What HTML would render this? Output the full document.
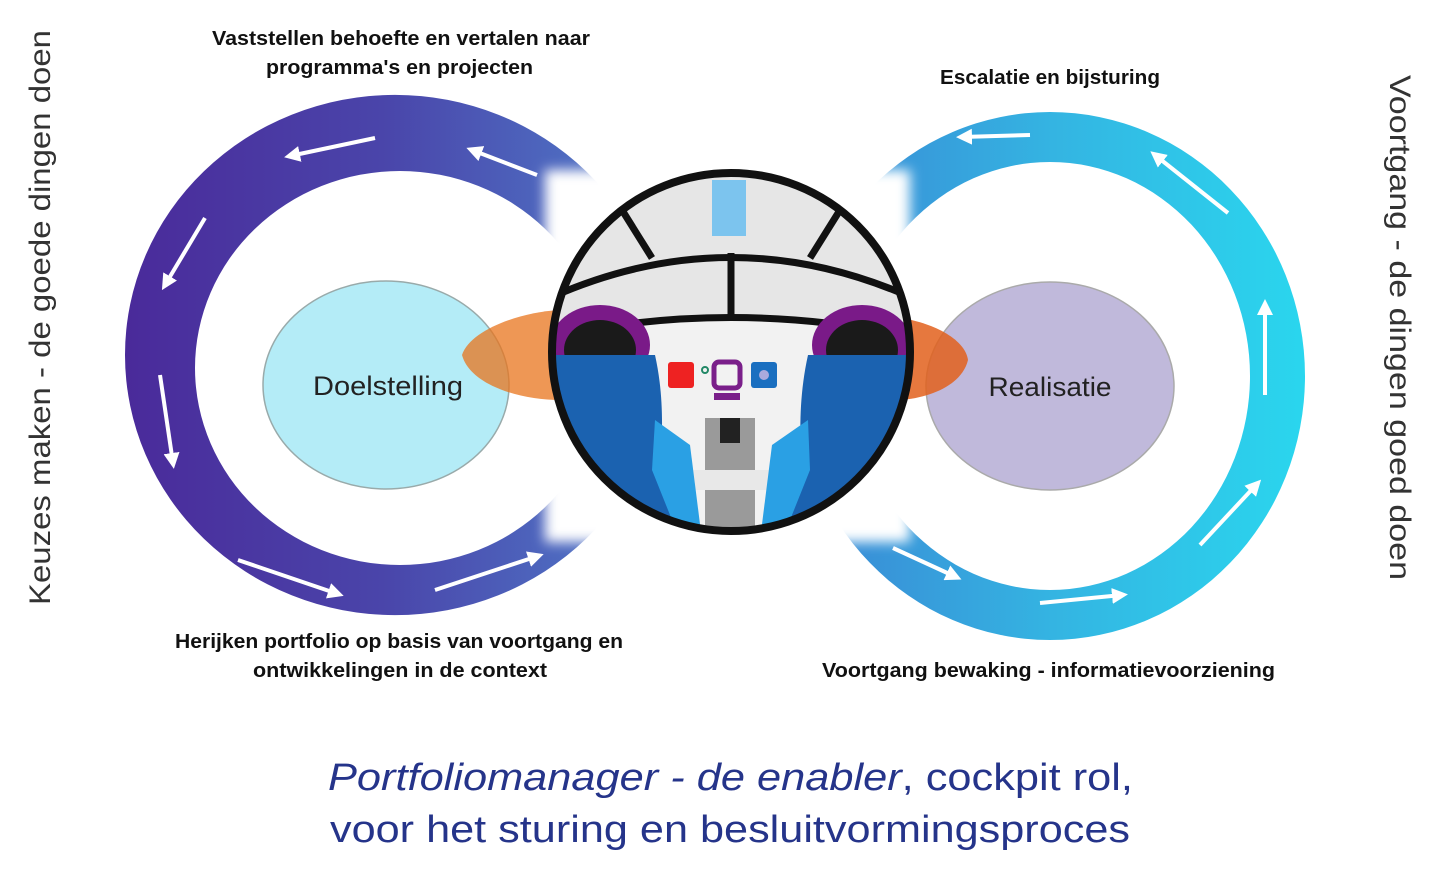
<!DOCTYPE html>
<html><head><meta charset="utf-8"><style>
html,body{margin:0;padding:0;background:#fff;}
svg{display:block;}
.b{font-family:"Liberation Sans Narrow","Liberation Sans",sans-serif;font-weight:bold;fill:#111;}
</style></head><body>
<svg width="1440" height="883" viewBox="0 0 1440 883" xmlns="http://www.w3.org/2000/svg">
<defs>
<linearGradient id="gl" x1="125" y1="0" x2="640" y2="0" gradientUnits="userSpaceOnUse">
<stop offset="0" stop-color="#4a2a9a"/><stop offset="0.5" stop-color="#4a45aa"/><stop offset="1" stop-color="#4f78c8"/></linearGradient>
<linearGradient id="gr" x1="800" y1="0" x2="1305" y2="0" gradientUnits="userSpaceOnUse">
<stop offset="0" stop-color="#3a86d4"/><stop offset="0.5" stop-color="#34b4e2"/><stop offset="1" stop-color="#2ad6ee"/></linearGradient>
<marker id="ah" markerWidth="4" markerHeight="4" refX="2.5" refY="2" orient="auto" markerUnits="strokeWidth">
<path d="M0,0 L4,2 L0,4 z" fill="#fff"/></marker>
<clipPath id="cc"><circle cx="731" cy="352" r="178"/></clipPath>
<filter id="bl" x="-10%" y="-10%" width="120%" height="120%"><feGaussianBlur stdDeviation="6"/></filter>
</defs>

<!-- rings -->
<path fill="url(#gl)" fill-rule="evenodd" d="M125,355 a270,260 0 1,0 540,0 a270,260 0 1,0 -540,0 Z M195,368 a205,197 0 1,0 410,0 a205,197 0 1,0 -410,0 Z"/>
<path fill="url(#gr)" fill-rule="evenodd" d="M795,376 a255,264 0 1,0 510,0 a255,264 0 1,0 -510,0 Z M850,376 a200,214 0 1,0 400,0 a200,214 0 1,0 -400,0 Z"/>

<!-- arrows -->
<g stroke="#fff" stroke-width="4" fill="none" marker-end="url(#ah)">
<line x1="375" y1="138" x2="290" y2="156"/>
<line x1="537" y1="175" x2="472" y2="150"/>
<line x1="205" y1="218" x2="165" y2="285"/>
<line x1="160" y1="375" x2="173" y2="463"/>
<line x1="238" y1="560" x2="338" y2="594"/>
<line x1="435" y1="590" x2="538" y2="556"/>
<line x1="1030" y1="135" x2="962" y2="137"/>
<line x1="1228" y1="213" x2="1155" y2="155"/>
<line x1="1265" y1="395" x2="1265" y2="305"/>
<line x1="1200" y1="545" x2="1257" y2="484"/>
<line x1="1040" y1="603" x2="1122" y2="595"/>
<line x1="893" y1="548" x2="956" y2="577"/>
</g>

<!-- white square behind cockpit -->
<rect x="545" y="170" width="365" height="372" fill="#fff" filter="url(#bl)"/>

<!-- inner ellipses -->
<ellipse cx="386" cy="385" rx="123" ry="104" fill="#b4ecf7" stroke="#9aa" stroke-width="1.5"/>
<ellipse cx="1050" cy="386" rx="124" ry="104" fill="#c0b9db" stroke="#aaa" stroke-width="1.5"/>

<!-- orange wings -->
<path d="M560,310 C520,312 470,330 462,355 C470,385 520,400 560,400 Z" fill="#e8741c" fill-opacity="0.75"/>
<path d="M900,318 C930,322 965,338 968,360 C962,385 930,398 900,400 Z" fill="#e2601c" fill-opacity="0.85"/>

<!-- cockpit -->
<g clip-path="url(#cc)">
<rect x="545" y="170" width="372" height="365" fill="#e6e6e6"/>
<rect x="545" y="320" width="372" height="215" fill="#f2f2f2"/>
<rect x="712" y="180" width="34" height="56" fill="#7cc4ee"/>
<path d="M545,300 Q731,215 917,300" stroke="#111" stroke-width="7" fill="none"/>
<path d="M560,335 Q731,300 902,335" stroke="#111" stroke-width="7" fill="none"/>
<line x1="731" y1="253" x2="731" y2="318" stroke="#111" stroke-width="7"/>
<line x1="622" y1="210" x2="652" y2="258" stroke="#111" stroke-width="7"/>
<line x1="840" y1="210" x2="810" y2="258" stroke="#111" stroke-width="7"/>
<rect x="668" y="362" width="26" height="26" rx="3" fill="#e22"/>
<circle cx="705" cy="370" r="3" stroke="#286" stroke-width="2" fill="none"/>
<rect x="714" y="362" width="26" height="26" rx="5" fill="none" stroke="#7a1f8a" stroke-width="5"/>
<rect x="714" y="393" width="26" height="7" fill="#7a1f8a"/>
<rect x="751" y="362" width="26" height="26" rx="3" fill="#1a6fc0"/>
<circle cx="764" cy="375" r="5" fill="#aad"/>
<rect x="705" y="418" width="50" height="120" fill="#9a9a9a"/>
<rect x="720" y="418" width="20" height="25" fill="#222"/>
<rect x="690" y="470" width="80" height="20" fill="#e8e8e8"/>
<ellipse cx="600" cy="345" rx="50" ry="40" fill="#7a1a88"/>
<ellipse cx="600" cy="350" rx="36" ry="30" fill="#1a1a1a"/>
<ellipse cx="862" cy="345" rx="50" ry="40" fill="#7a1a88"/>
<ellipse cx="862" cy="350" rx="36" ry="30" fill="#1a1a1a"/>
<path d="M545,355 L655,355 C665,400 662,440 660,470 L690,520 L690,540 L545,540 Z" fill="#1b62b0"/>
<path d="M655,420 L690,445 L702,540 L680,540 L652,470 Z" fill="#2aa0e4"/>
<path d="M917,355 L808,355 C798,400 800,440 802,470 L772,520 L772,540 L917,540 Z" fill="#1b62b0"/>
<path d="M808,420 L772,445 L760,540 L782,540 L810,470 Z" fill="#2aa0e4"/>
</g>
<circle cx="731" cy="352" r="179" fill="none" stroke="#111" stroke-width="8"/>

<!-- labels -->
<text x="388" y="395" font-family="Liberation Sans, sans-serif" font-size="27" fill="#222" text-anchor="middle" textLength="150" lengthAdjust="spacingAndGlyphs">Doelstelling</text>
<text x="1050" y="396" font-family="Liberation Sans, sans-serif" font-size="27" fill="#222" text-anchor="middle" textLength="123" lengthAdjust="spacingAndGlyphs">Realisatie</text>

<text class="b" x="212" y="45" font-size="20" textLength="378" lengthAdjust="spacingAndGlyphs">Vaststellen behoefte en vertalen naar</text>
<text class="b" x="266" y="74" font-size="20" textLength="267" lengthAdjust="spacingAndGlyphs">programma's en projecten</text>
<text class="b" x="940" y="84" font-size="20" textLength="220" lengthAdjust="spacingAndGlyphs">Escalatie en bijsturing</text>
<text class="b" x="175" y="648" font-size="20" textLength="448" lengthAdjust="spacingAndGlyphs">Herijken portfolio op basis van voortgang en</text>
<text class="b" x="253" y="677" font-size="20" textLength="294" lengthAdjust="spacingAndGlyphs">ontwikkelingen in de context</text>
<text class="b" x="822" y="677" font-size="20" textLength="453" lengthAdjust="spacingAndGlyphs">Voortgang bewaking - informatievoorziening</text>

<text transform="translate(50,605) rotate(-90)" font-family="Liberation Sans, sans-serif" font-size="30" fill="#333" textLength="575" lengthAdjust="spacingAndGlyphs">Keuzes maken - de goede dingen doen</text>
<text transform="translate(1390,75) rotate(90)" font-family="Liberation Sans, sans-serif" font-size="30" fill="#333" textLength="505" lengthAdjust="spacingAndGlyphs">Voortgang - de dingen goed doen</text>

<text x="328" y="790" font-family="Liberation Sans, sans-serif" font-size="38" fill="#25348a" textLength="805" lengthAdjust="spacingAndGlyphs"><tspan font-style="italic">Portfoliomanager - de enabler</tspan>, cockpit rol,</text>
<text x="330" y="842" font-family="Liberation Sans, sans-serif" font-size="38" fill="#25348a" textLength="800" lengthAdjust="spacingAndGlyphs">voor het sturing en besluitvormingsproces</text>
</svg>
</body></html>
